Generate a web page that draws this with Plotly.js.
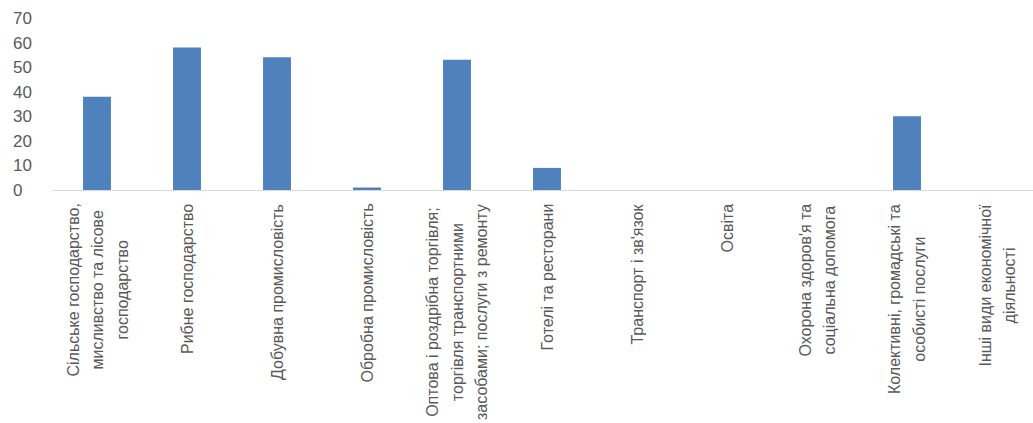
<!DOCTYPE html>
<html>
<head>
<meta charset="utf-8">
<script src="https://cdn.plot.ly/plotly-3.0.1.min.js"></script>
<style>html,body{margin:0;padding:0;background:#fff;}#chart{width:1033px;height:423px;}</style>
</head>
<body>
<div id="chart"></div>
<script>
const categories = [
  "Сільське господарство,\nмисливство та лісове\nгосподарство",
  "Рибне господарство",
  "Добувна промисловість",
  "Обробна промисловість",
  "Оптова і роздрібна торгівля;\nторгівля транспортними\nзасобами; послуги з ремонту",
  "Готелі та ресторани",
  "Транспорт і зв'язок",
  "Освіта",
  "Охорона здоров'я та\nсоціальна допомога",
  "Колективні, громадські та\nособисті послуги",
  "Інші види економічної\nдіяльності"
];
const values = [38, 58, 54, 1, 53, 9, 0, 0, 0, 30, 0];
const yTicks = [0, 10, 20, 30, 40, 50, 60, 70];

const labelColor = '#595959';
const trace = {
  type: 'bar',
  x: categories,
  y: values,
  marker: {color: '#4F81BD'},
  hoverinfo: 'y'
};

// centred, multi-line category labels (rotated like the original)
const annotations = categories.map(function (c) {
  const lines = c.split('\n').map(function (l) {
    return '<span style="font-size:16px">' + l + '</span>';
  });
  return {
    x: c,
    y: 0,
    xref: 'x',
    yref: 'y',
    text: lines.join('<br>'),
    textangle: -90,
    align: 'center',
    xanchor: 'center',
    yanchor: 'top',
    yshift: -12,
    showarrow: false,
    font: {size: 19, color: labelColor, family: '"Liberation Sans", Arial, sans-serif'}
  };
});

const layout = {
  width: 1033,
  height: 423,
  margin: {l: 52, r: 0, t: 18, b: 233},
  paper_bgcolor: '#ffffff',
  plot_bgcolor: '#ffffff',
  showlegend: false,
  bargap: 0.69,
  font: {family: '"Liberation Sans", Arial, sans-serif', color: labelColor},
  annotations: annotations,
  xaxis: {
    type: 'category',
    range: [-0.5, 10.4],
    showticklabels: false,
    showline: true,
    linecolor: '#d9d9d9',
    linewidth: 1,
    ticks: '',
    showgrid: false,
    zeroline: false
  },
  yaxis: {
    range: [0, 70],
    tickvals: yTicks,
    ticktext: yTicks.map(function (v) { return v < 10 ? v + '\u2007' : String(v); }),
    tickfont: {size: 17, color: labelColor},
    showgrid: false,
    zeroline: false,
    showline: false,
    ticks: '',
    ticklabelstandoff: 19
  }
};

Plotly.newPlot('chart', [trace], layout, {displayModeBar: false, staticPlot: true});
</script>
</body>
</html>
